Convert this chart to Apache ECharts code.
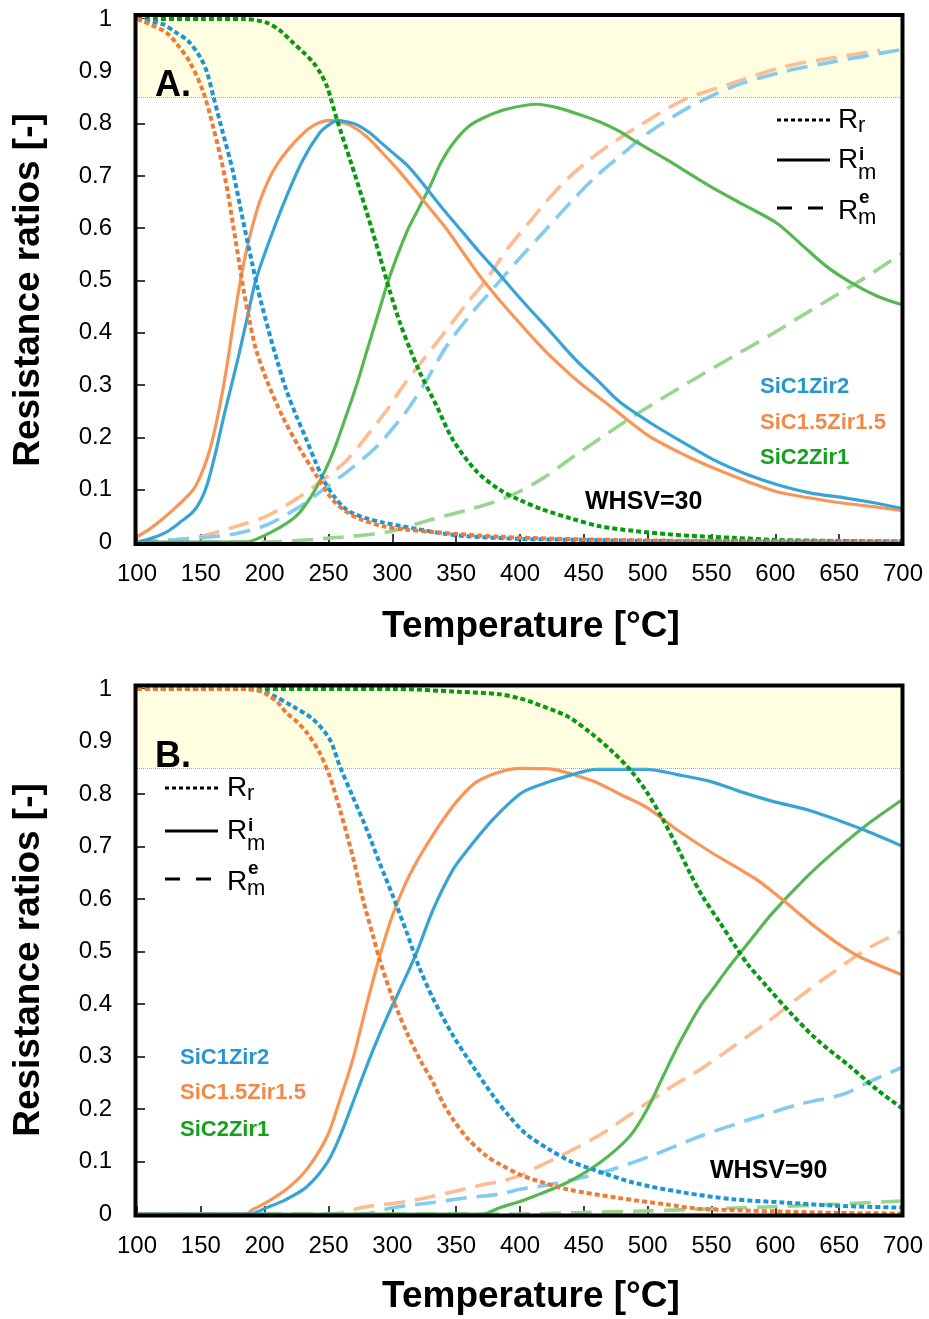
<!DOCTYPE html>
<html>
<head>
<meta charset="utf-8">
<script src="https://cdn.jsdelivr.net/npm/echarts@6/dist/echarts.min.js"></script>
<style>
html,body{margin:0;padding:0;background:#fff;}
#c{width:929px;height:1319px;}
</style>
</head>
<body>
<div id="c"></div>
<script>
// ---------- tick labels / categories ----------
const xTicks = [100,150,200,250,300,350,400,450,500,550,600,650,700];
const yTicks = [0,0.1,0.2,0.3,0.4,0.5,0.6,0.7,0.8,0.9,1];
const samples = ['SiC1Zir2','SiC1.5Zir1.5','SiC2Zir1'];
const panelLabels = ['A.','B.'];
const whsvLabels = ['WHSV=30','WHSV=90'];
const shadeFrom = 0.85, shadeTo = 1;

// ---------- Panel A (WHSV=30) : [Temperature, ratio] ----------
const A_Rr_SiC1Zir2 = [[100,1],[120,0.99],[130,0.975],[140,0.958],[150,0.925],[155,0.897],[160,0.85],[167.5,0.78],[175,0.71],[183,0.615],[190,0.535],[195,0.48],[203,0.405],[210,0.345],[217,0.29],[225,0.24],[232,0.2],[240,0.152],[247,0.115],[255,0.085],[262,0.066],[269,0.055],[280,0.045],[293,0.037],[319,0.025],[340,0.016],[358,0.011],[400,0.006],[450,0.004],[500,0.002],[600,0.001],[700,0.001]];
const A_Rr_SiC15Zir15 = [[100,1],[110,0.99],[123,0.974],[132,0.95],[141.5,0.917],[152,0.86],[160,0.79],[166,0.73],[171,0.67],[176,0.595],[180,0.535],[184,0.475],[188,0.425],[193,0.37],[201.5,0.31],[214,0.24],[227.7,0.178],[241,0.125],[253.5,0.08],[264,0.058],[274.7,0.044],[292.7,0.03],[310,0.024],[332,0.019],[384,0.01],[450,0.005],[550,0.002],[700,0.001]];
const A_Rr_SiC2Zir1 = [[100,1],[150,1],[183,1],[201.5,0.993],[212,0.978],[222,0.955],[230,0.937],[238,0.917],[244,0.895],[249,0.87],[256.7,0.807],[267,0.73],[280,0.63],[290,0.548],[298,0.48],[306,0.419],[314,0.368],[321.6,0.324],[334.7,0.26],[347.5,0.195],[366,0.135],[384,0.1],[400,0.08],[418,0.062],[440,0.045],[462.7,0.03],[490,0.021],[515,0.015],[540,0.011],[567,0.008],[600,0.004],[650,0.002],[700,0.001]];

const A_Rmi_SiC1Zir2 = [[100,0],[110,0.006],[123,0.019],[135,0.04],[144,0.058],[150,0.08],[155,0.11],[161,0.165],[167.5,0.235],[173,0.29],[180,0.36],[186,0.425],[193,0.5],[204,0.578],[217,0.66],[230,0.731],[243,0.782],[250,0.797],[257,0.806],[265,0.803],[272,0.798],[282,0.783],[290,0.766],[300,0.745],[311,0.722],[320,0.697],[329.5,0.668],[342,0.63],[355.6,0.591],[368,0.555],[381.7,0.518],[395,0.48],[407.8,0.445],[421,0.41],[434,0.374],[447,0.34],[460,0.311],[478,0.268],[502,0.228],[528,0.19],[551,0.158],[578,0.129],[601,0.11],[627,0.094],[653,0.085],[675,0.076],[700,0.064]];
const A_Rmi_SiC15Zir15 = [[100,0.01],[110,0.025],[120,0.044],[132,0.07],[144,0.1],[150,0.128],[155,0.16],[160,0.205],[165,0.262],[170,0.33],[175,0.41],[181,0.5],[186,0.56],[190,0.6],[196,0.65],[204,0.697],[212,0.73],[220,0.755],[228,0.776],[235.5,0.792],[243,0.802],[251,0.806],[259,0.803],[267,0.797],[280,0.775],[290,0.75],[305,0.71],[321.6,0.661],[342.6,0.598],[355,0.555],[368.7,0.508],[382,0.468],[394.8,0.432],[408,0.396],[421,0.362],[434,0.332],[447,0.304],[470.5,0.26],[499.5,0.205],[531,0.164],[554,0.139],[580,0.114],[601,0.096],[625,0.085],[651,0.075],[675,0.068],[700,0.06]];
const A_Rmi_SiC2Zir1 = [[100,0],[150,0],[186,0],[195,0.007],[202,0.015],[212,0.028],[222,0.044],[228,0.058],[234,0.078],[240,0.102],[247,0.135],[253.5,0.171],[261.5,0.225],[272,0.3],[280,0.365],[290,0.445],[298,0.508],[311,0.591],[320,0.635],[329.5,0.68],[338,0.725],[347.8,0.763],[360,0.795],[374,0.814],[390,0.828],[413,0.837],[430,0.83],[447,0.817],[462.7,0.803],[478,0.785],[488.5,0.769],[515,0.731],[549,0.68],[575,0.645],[601,0.61],[619,0.572],[640,0.527],[660,0.495],[680,0.47],[700,0.453]];

const A_Rme_SiC1Zir2 = [[100,0],[149,0.008],[175,0.015],[202,0.033],[227.7,0.068],[243,0.095],[267,0.139],[288,0.183],[306,0.234],[314,0.26],[327,0.31],[342.6,0.375],[362,0.437],[381.7,0.492],[397,0.535],[413,0.578],[441.7,0.655],[460,0.7],[478.3,0.738],[502,0.785],[533,0.832],[567,0.871],[606,0.899],[645,0.918],[700,0.942]];
const A_Rme_SiC15Zir15 = [[100,0],[125,0.003],[149,0.01],[175,0.028],[202,0.05],[227.7,0.087],[243,0.114],[264.5,0.157],[288,0.228],[298,0.26],[306,0.29],[324,0.348],[342.6,0.406],[358,0.455],[373.9,0.502],[390,0.56],[407.8,0.613],[422,0.655],[436.6,0.693],[453,0.728],[470.5,0.76],[494,0.797],[528,0.845],[562,0.874],[606,0.908],[643,0.925],[682,0.94]];
const A_Rme_SiC2Zir1 = [[100,0],[200,0],[253.5,0.008],[296,0.019],[332,0.044],[360,0.062],[384,0.08],[400,0.097],[420,0.125],[437,0.155],[462.7,0.198],[488.5,0.24],[515,0.28],[541,0.318],[567,0.355],[593.5,0.392],[619,0.43],[645,0.468],[670,0.505],[700,0.553]];

// ---------- Panel B (WHSV=90) ----------
const B_Rr_SiC1Zir2 = [[100,1],[150,1],[183,1],[201.5,0.993],[222,0.967],[238,0.942],[251,0.904],[259,0.852],[269,0.795],[280,0.732],[290,0.669],[300.5,0.605],[311.5,0.535],[321,0.47],[332,0.41],[347.5,0.34],[363.5,0.28],[379,0.225],[392,0.185],[405,0.152],[423.5,0.122],[440,0.1],[457,0.085],[488.5,0.06],[527.7,0.041],[567,0.028],[606,0.022],[645,0.016],[700,0.012]];
const B_Rr_SiC15Zir15 = [[100,1],[150,1],[191,1],[201.5,0.99],[210,0.975],[217,0.955],[225,0.938],[233,0.917],[243,0.879],[251,0.833],[259,0.77],[269,0.681],[277,0.599],[285,0.529],[290,0.485],[300.5,0.409],[311.5,0.345],[321.7,0.294],[332,0.25],[340,0.21],[347.6,0.18],[358.5,0.145],[374,0.11],[384,0.095],[400,0.075],[410,0.066],[437,0.047],[476,0.031],[515,0.018],[540,0.01],[600,0.005],[650,0.002],[700,0.001]];
const B_Rr_SiC2Zir1 = [[100,1],[300,1],[350,0.995],[384,0.99],[400,0.982],[410,0.974],[437,0.948],[455,0.917],[470.5,0.885],[486,0.847],[499.5,0.803],[512,0.751],[523,0.7],[533,0.65],[543,0.605],[556.6,0.555],[570,0.505],[578.6,0.475],[593.5,0.433],[611.5,0.384],[632.6,0.332],[658.5,0.281],[679.6,0.237],[700,0.2]];

const B_Rmi_SiC1Zir2 = [[100,0],[188,0],[201.5,0.012],[217,0.028],[233,0.052],[249,0.098],[259,0.148],[272,0.231],[285,0.313],[296,0.376],[306,0.428],[319,0.498],[332,0.58],[347.5,0.656],[361,0.7],[379,0.752],[400,0.8],[413,0.815],[437,0.834],[460,0.847],[499.5,0.847],[523,0.837],[549,0.824],[572,0.805],[598,0.786],[625,0.77],[648,0.751],[672,0.729],[700,0.7]];
const B_Rmi_SiC15Zir15 = [[100,0],[185,0],[191,0.009],[201.5,0.022],[217,0.047],[233,0.085],[249,0.148],[259,0.218],[269,0.294],[280,0.4],[290,0.49],[300,0.568],[310,0.628],[320,0.675],[330,0.715],[340,0.752],[353,0.793],[366,0.823],[384,0.842],[400,0.849],[423.5,0.848],[441.5,0.837],[460,0.822],[478,0.8],[499.5,0.774],[523,0.732],[549,0.69],[572,0.657],[586,0.636],[606,0.598],[627,0.555],[648,0.517],[666,0.49],[700,0.455]];
const B_Rmi_SiC2Zir1 = [[100,0],[371,0],[384,0.012],[400,0.024],[410,0.033],[437,0.06],[462.7,0.098],[486,0.148],[499.5,0.199],[512,0.262],[525,0.326],[541,0.395],[551,0.428],[562,0.465],[570,0.49],[580,0.52],[598,0.574],[625,0.643],[648,0.694],[672,0.742],[700,0.79]];

const B_Rme_SiC1Zir2 = [[100,0],[277,0],[300,0.012],[332,0.022],[358.5,0.031],[384,0.038],[400,0.047],[423.5,0.056],[462.7,0.078],[502,0.11],[541,0.148],[580,0.18],[619,0.209],[653,0.228],[672,0.25],[700,0.28]];
const B_Rme_SiC15Zir15 = [[100,0],[250,0],[280,0.014],[311.5,0.024],[345,0.041],[371,0.056],[384,0.062],[400,0.073],[410,0.085],[437,0.117],[462.7,0.151],[488.5,0.193],[515,0.237],[541,0.275],[567,0.319],[593.5,0.365],[619,0.414],[645,0.46],[672,0.505],[700,0.54]];
const B_Rme_SiC2Zir1 = [[100,0],[400,0],[450,0.003],[500,0.006],[550,0.01],[600,0.014],[650,0.019],[700,0.025]];

// ---------- styles ----------
const FONT = '"Liberation Sans", Arial, sans-serif';
const COL = {
  blue:   {rr:'#1a96d4', mi:'#38a4d6', me:'#82cdef', txt:'#2596d0'},
  orange: {rr:'#ee7b36', mi:'#f99657', me:'#fdbc92', txt:'#f08a4b'},
  green:  {rr:'#079a10', mi:'#56b851', me:'#98d690', txt:'#14a01c'}
};

const chart = echarts.init(document.getElementById('c'), null, {renderer:'canvas'});

const grids = [
  {left:137, right:26, top:19, height:523},
  {left:137, right:26, top:689, height:525}
];

function xAx(i){
  return {gridIndex:i, type:'value', min:xTicks[0], max:xTicks[xTicks.length-1], interval:50,
    axisLine:{show:false}, splitLine:{show:false},
    axisTick:{show:true, inside:true, length:8, lineStyle:{color:'#000', width:1.5}},
    axisLabel:{show:true, margin:20, color:'#000', fontSize:24, fontFamily:FONT}};
}
function yAx(i){
  return {gridIndex:i, type:'value', min:yTicks[0], max:yTicks[yTicks.length-1], interval:0.1,
    axisLine:{show:false}, splitLine:{show:false},
    axisTick:{show:true, inside:true, length:8, lineStyle:{color:'#000', width:1.5}},
    axisLabel:{show:true, margin:25, color:'#000', fontSize:24, fontFamily:FONT,
      formatter: v => String(Math.round(v*10)/10)}};
}

function ln(i, data, color, kind, z){
  const ls = {color:color};
  if(kind==='rr'){ ls.width=4; ls.type=[5,3]; }
  else if(kind==='mi'){ ls.width=3.2; ls.type='solid'; }
  else { ls.width=3.6; ls.type=[21,10]; }
  return {type:'line', xAxisIndex:i, yAxisIndex:i, data:data, showSymbol:false, symbol:'none',
    smooth:0.3, lineStyle:ls, z:z, silent:true, animation:false};
}
function band(i){
  return {type:'line', xAxisIndex:i, yAxisIndex:i, data:[], z:1, silent:true, animation:false,
    markArea:{silent:true, itemStyle:{color:'#fffee0'}, data:[[{yAxis:shadeFrom},{yAxis:shadeTo}]]},
    markLine:{silent:true, symbol:'none', label:{show:false},
      lineStyle:{color:'#aaaaaa', type:'dotted', width:1}, data:[{yAxis:shadeFrom}]}};
}

const series = [
  band(0),
  ln(0, A_Rme_SiC2Zir1, COL.green.me, 'me', 3),
  ln(0, A_Rme_SiC15Zir15, COL.orange.me, 'me', 3),
  ln(0, A_Rme_SiC1Zir2, COL.blue.me, 'me', 3),
  ln(0, A_Rmi_SiC2Zir1, COL.green.mi, 'mi', 4),
  ln(0, A_Rmi_SiC15Zir15, COL.orange.mi, 'mi', 4),
  ln(0, A_Rmi_SiC1Zir2, COL.blue.mi, 'mi', 4),
  ln(0, A_Rr_SiC2Zir1, COL.green.rr, 'rr', 5),
  ln(0, A_Rr_SiC1Zir2, COL.blue.rr, 'rr', 5),
  ln(0, A_Rr_SiC15Zir15, COL.orange.rr, 'rr', 5),
  band(1),
  ln(1, B_Rme_SiC2Zir1, COL.green.me, 'me', 3),
  ln(1, B_Rme_SiC15Zir15, COL.orange.me, 'me', 3),
  ln(1, B_Rme_SiC1Zir2, COL.blue.me, 'me', 3),
  ln(1, B_Rmi_SiC2Zir1, COL.green.mi, 'mi', 4),
  ln(1, B_Rmi_SiC15Zir15, COL.orange.mi, 'mi', 4),
  ln(1, B_Rmi_SiC1Zir2, COL.blue.mi, 'mi', 4),
  ln(1, B_Rr_SiC2Zir1, COL.green.rr, 'rr', 5),
  ln(1, B_Rr_SiC1Zir2, COL.blue.rr, 'rr', 5),
  ln(1, B_Rr_SiC15Zir15, COL.orange.rr, 'rr', 5)
];

// ---------- graphic decorations ----------
function txt(x, y, s, font, color, align, extra){
  return Object.assign({type:'text', x:x, y:y, z:50, silent:true,
    style:{text:s, font:font, fill:color||'#000', align:align||'left', verticalAlign:'middle'}}, extra||{});
}
function seg(x1,y1,x2,y2,dash){
  return {type:'line', z:50, silent:true, shape:{x1:x1,y1:y1,x2:x2,y2:y2},
    style:{stroke:'#000', lineWidth:3, lineDash:dash||null}};
}
function styleLegend(x0, x1, tx, yr, ym, ye){
  const out = [];
  out.push(seg(x0, yr, x1, yr, [4,3]));
  out.push(txt(tx, yr, 'R', '28px '+FONT));
  out.push(txt(tx+20, yr+6, 'r', '22px '+FONT));
  out.push(seg(x0, ym, x1, ym, null));
  out.push(txt(tx, ym, 'R', '28px '+FONT));
  out.push(txt(tx+21, ym-5, 'i', 'bold 19px '+FONT));
  out.push(txt(tx+20, ym+13, 'm', '22px '+FONT));
  out.push(seg(x0, ye, x1, ye, [15,16]));
  out.push(txt(tx, ye+3, 'R', '28px '+FONT));
  out.push(txt(tx+21, ye-10, 'e', 'bold 19px '+FONT));
  out.push(txt(tx+20, ye+10, 'm', '22px '+FONT));
  return out;
}
function frame(x, y, w, h){
  return {type:'rect', z:60, silent:true, shape:{x:x,y:y,width:w,height:h},
    style:{fill:'none', stroke:'#000', lineWidth:4}};
}

const graphics = [
  frame(135.5, 15, 767, 529),
  frame(135.5, 685.5, 767, 530),
  txt(531, 627, 'Temperature [°C]', 'bold 37px '+FONT, '#000', 'center'),
  txt(531, 1297, 'Temperature [°C]', 'bold 37px '+FONT, '#000', 'center'),
  txt(29, 290, 'Resistance ratios [-]', 'bold 37px '+FONT, '#000', 'center', {rotation:Math.PI/2}),
  txt(29, 960, 'Resistance ratios [-]', 'bold 37px '+FONT, '#000', 'center', {rotation:Math.PI/2}),
  txt(155, 86, panelLabels[0], 'bold 36px '+FONT),
  txt(155, 757, panelLabels[1], 'bold 36px '+FONT),
  txt(585, 502, whsvLabels[0], 'bold 25px '+FONT),
  txt(710, 1171, whsvLabels[1], 'bold 25px '+FONT),
  txt(760, 387, samples[0], 'bold 22px '+FONT, COL.blue.txt),
  txt(760, 423, samples[1], 'bold 22px '+FONT, COL.orange.txt),
  txt(760, 458, samples[2], 'bold 22px '+FONT, COL.green.txt),
  txt(180, 1058, samples[0], 'bold 22px '+FONT, COL.blue.txt),
  txt(180, 1093, samples[1], 'bold 22px '+FONT, COL.orange.txt),
  txt(180, 1130, samples[2], 'bold 22px '+FONT, COL.green.txt)
].concat(styleLegend(777, 830, 838, 120, 160, 208))
 .concat(styleLegend(165, 218, 227, 788, 831, 879));

chart.setOption({
  animation:false,
  backgroundColor:'#fff',
  grid:grids,
  xAxis:[xAx(0), xAx(1)],
  yAxis:[yAx(0), yAx(1)],
  series:series,
  graphic:{elements:graphics}
});
</script>
</body>
</html>
